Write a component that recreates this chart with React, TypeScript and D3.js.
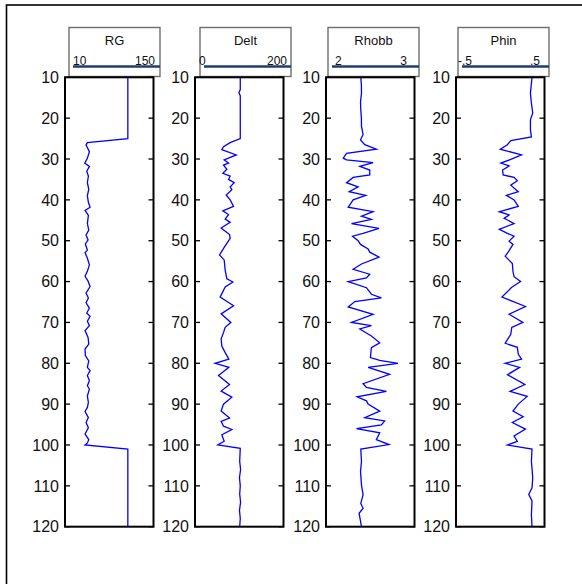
import React from "react";
import * as d3 from "d3";

const depthTicks = [10, 20, 30, 40, 50, 60, 70, 80, 90, 100, 110, 120];
const trackNames = ["RG", "Delt", "Rhobb", "Phin"];
const trackDomains: [number, number][] = [[10, 150], [0, 200], [2, 3], [-0.5, 0.5]];
const trackScaleLabels = [["10", "150"], ["0", "200"], ["2", "3"], ["-.5", ".5"]];

const rgDepth = [10, 25, 26, 26.6, 28.2, 29.8, 31, 31.8, 33, 34.2, 35.8, 37.4, 39, 40.6, 41.8, 42.6, 43.8, 45.8, 47.4, 48.6, 49.8, 50.8, 52.3, 52.9, 54.3, 55.9, 57.5, 58.7, 59.9, 61.2, 62.8, 64, 65.2, 66.5, 67.7, 68.5, 69.7, 70.8, 72, 73.7, 75.3, 76.5, 78.1, 79.4, 81, 81.8, 83, 84.3, 85.5, 86.3, 88, 89.6, 90.8, 91.8, 93.3, 94.5, 95.8, 97.3, 98.7, 99.5, 100, 101, 120];
const rgValue = [109.4, 109.4, 45.4, 43.3, 48.6, 45.4, 41.2, 48.6, 44.4, 47, 45.4, 47.6, 45.4, 47, 49.7, 41.7, 47, 45.4, 47.6, 43.3, 46.5, 42.2, 45.4, 41.7, 45.4, 48.6, 45.4, 41.7, 46.5, 49.7, 43.3, 47, 43.3, 48.6, 44.4, 49.7, 45.4, 48.6, 41.7, 46.5, 47.6, 41.7, 42.2, 47.6, 45.4, 49.7, 45.4, 48.6, 45.4, 48.6, 45.4, 47, 45.4, 41.7, 47, 43.3, 47, 41.7, 47.6, 45.4, 41.7, 109.4, 109.4];

const deltDepth = [10, 13, 13.8, 14.5, 25, 26, 27, 27.7, 29, 30.2, 31, 31.5, 32.5, 33.5, 34.2, 35, 35.8, 36.8, 37.5, 38.8, 40, 41.6, 42.7, 43.6, 44.7, 45.5, 46.9, 48.5, 49.4, 51.5, 53.5, 54.7, 57.2, 59.3, 60.1, 61.3, 63.8, 65.9, 67.9, 70, 71.2, 72.5, 74, 75.8, 77.4, 79, 80, 81, 83, 85.2, 86.8, 88.3, 90, 91.7, 93.4, 94.2, 95.4, 96.2, 97.5, 99.1, 100, 100.8, 104, 106, 108, 110, 112, 114, 116, 118, 120];
const deltValue = [102.3, 102.3, 99.2, 102.3, 102.3, 79.5, 64.4, 60.6, 93.2, 65.9, 75.8, 64.4, 72, 62.9, 79.5, 75.8, 88.6, 79.5, 83.3, 70.5, 79.5, 87.1, 62.9, 75.8, 68.2, 79.5, 59.1, 78.1, 79.5, 66.7, 55.4, 65.9, 68.2, 72, 85.6, 68.2, 56.8, 87.1, 59.1, 81, 68.2, 64.4, 59.1, 60.6, 68.2, 76.6, 45.5, 76.6, 53, 78.1, 59.1, 83.3, 64.4, 59.1, 78.1, 59.1, 64.4, 83.3, 60.6, 65.9, 51.5, 102.3, 101, 103, 100.5, 102.3, 101, 103, 100.5, 102.3, 101];

const rhobbDepth = [10, 12, 13.9, 16, 18, 20, 22, 24, 25.3, 26.5, 27.6, 28.6, 29.8, 30.2, 30.9, 31.8, 32.7, 33.9, 34.5, 35.8, 36.8, 38, 38.9, 40, 41.8, 42.9, 44, 44.8, 45.8, 47, 48.2, 48.9, 50, 50.9, 52, 52.8, 54, 55.7, 57, 58.2, 59.1, 60, 61.5, 63.1, 64, 64.9, 66.2, 68, 70, 70.8, 71.6, 73.3, 75, 76.2, 78.6, 79.3, 80, 81, 82.7, 85, 85.9, 86.9, 88.2, 89.2, 90, 91.7, 93.3, 94.1, 95.1, 96, 97, 98.7, 99.9, 101, 104, 106.5, 109.8, 112.2, 114.3, 115.5, 116.7, 120];
const rhobbValue = [2.393, 2.4, 2.401, 2.39, 2.393, 2.4, 2.401, 2.419, 2.39, 2.438, 2.569, 2.232, 2.195, 2.232, 2.532, 2.382, 2.494, 2.494, 2.307, 2.232, 2.363, 2.262, 2.449, 2.307, 2.251, 2.532, 2.401, 2.513, 2.288, 2.599, 2.419, 2.3, 2.363, 2.39, 2.476, 2.494, 2.599, 2.401, 2.307, 2.494, 2.457, 2.251, 2.457, 2.513, 2.626, 2.326, 2.251, 2.532, 2.288, 2.513, 2.382, 2.513, 2.607, 2.513, 2.502, 2.607, 2.813, 2.476, 2.719, 2.419, 2.457, 2.682, 2.352, 2.457, 2.476, 2.607, 2.438, 2.663, 2.626, 2.345, 2.607, 2.569, 2.712, 2.393, 2.401, 2.39, 2.401, 2.419, 2.393, 2.419, 2.374, 2.401];

const phinDepth = [10, 13.9, 16.3, 18.7, 20.4, 22.8, 24.6, 25.5, 26.5, 27.6, 29, 30.1, 31, 31.7, 32.7, 33.9, 34.5, 35.3, 36.4, 38, 38.9, 40, 41.6, 42.9, 43.7, 44.5, 45.8, 47.2, 48.2, 48.9, 50.1, 50.9, 52.4, 53.8, 55.6, 57.6, 58.8, 60, 61.4, 63.8, 66.1, 68, 70, 71.2, 72.9, 75.1, 76.1, 77.8, 79, 80, 81, 82.8, 85.2, 86.9, 88.1, 90, 91.7, 93.1, 94.5, 96.1, 97.8, 99.1, 100, 101, 104, 105.7, 108.1, 110.5, 112.1, 113.7, 117, 120];
const phinValue = [0.359, 0.341, 0.352, 0.367, 0.341, 0.341, 0.352, 0.119, 0.081, 0.0, 0.241, 0.119, 0.007, 0.1, 0.026, 0.033, 0.156, 0.193, 0.119, 0.204, 0.07, 0.156, 0.204, -0.011, 0.1, 0.044, 0.156, -0.011, 0.081, 0.156, 0.1, 0.144, 0.1, 0.056, 0.137, 0.144, 0.156, 0.23, 0.13, 0.019, 0.285, 0.1, 0.256, 0.13, 0.119, 0.056, 0.193, 0.204, 0.241, 0.056, 0.219, 0.081, 0.278, 0.111, 0.304, 0.204, 0.144, 0.259, 0.137, 0.285, 0.156, 0.193, 0.081, 0.359, 0.352, 0.359, 0.367, 0.359, 0.322, 0.359, 0.352, 0.359];

const curveDepths = [rgDepth, deltDepth, rhobbDepth, phinDepth];
const curveValues = [rgValue, deltValue, rhobbValue, phinValue];

// layout
const plotLefts = [65, 195, 326, 456];
const plotWidth = 88.5;
const plotTop = 77.3;
const plotBottom = 526.7;
const headerLefts = [69, 200, 328, 458];
const headerWidth = 91;
const headerTop = 27.5;
const headerBottom = 76.5;
const labelInsets = [[4, 5], [-1, 4], [7, 12], [0, 9]];

export default function App() {
  const y = d3.scaleLinear().domain([10, 120]).range([plotTop, plotBottom]);
  return (
    <svg width={582} height={584} style={{ position: "absolute", left: 0, top: 0, background: "#fff" }}
      fontFamily="'Liberation Sans', Arial, sans-serif">
      <rect x={0} y={0} width={582} height={584} fill="#fff" />
      <rect x={6.5} y={5} width={700} height={700} fill="none" stroke="#000" strokeWidth={1.6} />
      {trackNames.map((name, i) => {
        const left = plotLefts[i];
        const x = d3.scaleLinear().domain(trackDomains[i]).range([left, left + plotWidth]);
        const line = d3.line<number>()
          .x((_, k) => x(curveValues[i][k]))
          .y((dd) => y(dd));
        const hl = headerLefts[i];
        const hr = hl + headerWidth;
        return (
          <g key={name}>
            {/* header */}
            <rect x={hl} y={headerTop} width={headerWidth} height={headerBottom - headerTop}
              fill="#fff" stroke="#6e6e6e" strokeWidth={1.4} />
            <text x={(hl + hr) / 2} y={45} fontSize={13} textAnchor="middle" fill="#111">{name}</text>
            <text x={hl + labelInsets[i][0]} y={64.5} fontSize={12} textAnchor="start" fill="#111">{trackScaleLabels[i][0]}</text>
            <text x={hr - labelInsets[i][1]} y={64.5} fontSize={12} textAnchor="end" fill="#111">{trackScaleLabels[i][1]}</text>
            <line x1={hl + 4} x2={hr} y1={66.5} y2={66.5} stroke="#1f3d6e" strokeWidth={2.4} />
            {/* curve */}
            <path d={line(curveDepths[i]) || ""} fill="none" stroke="#0000ff" strokeWidth={1.3} />
            {/* frame */}
            <rect x={left} y={plotTop} width={plotWidth} height={plotBottom - plotTop}
              fill="none" stroke="#000" strokeWidth={2} />
            {depthTicks.map((t) => (
              <g key={t}>
                <line x1={left} x2={left + 5} y1={y(t)} y2={y(t)} stroke="#000" strokeWidth={1.3} />
                <line x1={left + plotWidth - 5} x2={left + plotWidth} y1={y(t)} y2={y(t)} stroke="#000" strokeWidth={1.3} />
                <text x={left - 6} y={y(t)} dy="0.36em" fontSize={16} textAnchor="end" fill="#111">{t}</text>
              </g>
            ))}
          </g>
        );
      })}
    </svg>
  );
}
